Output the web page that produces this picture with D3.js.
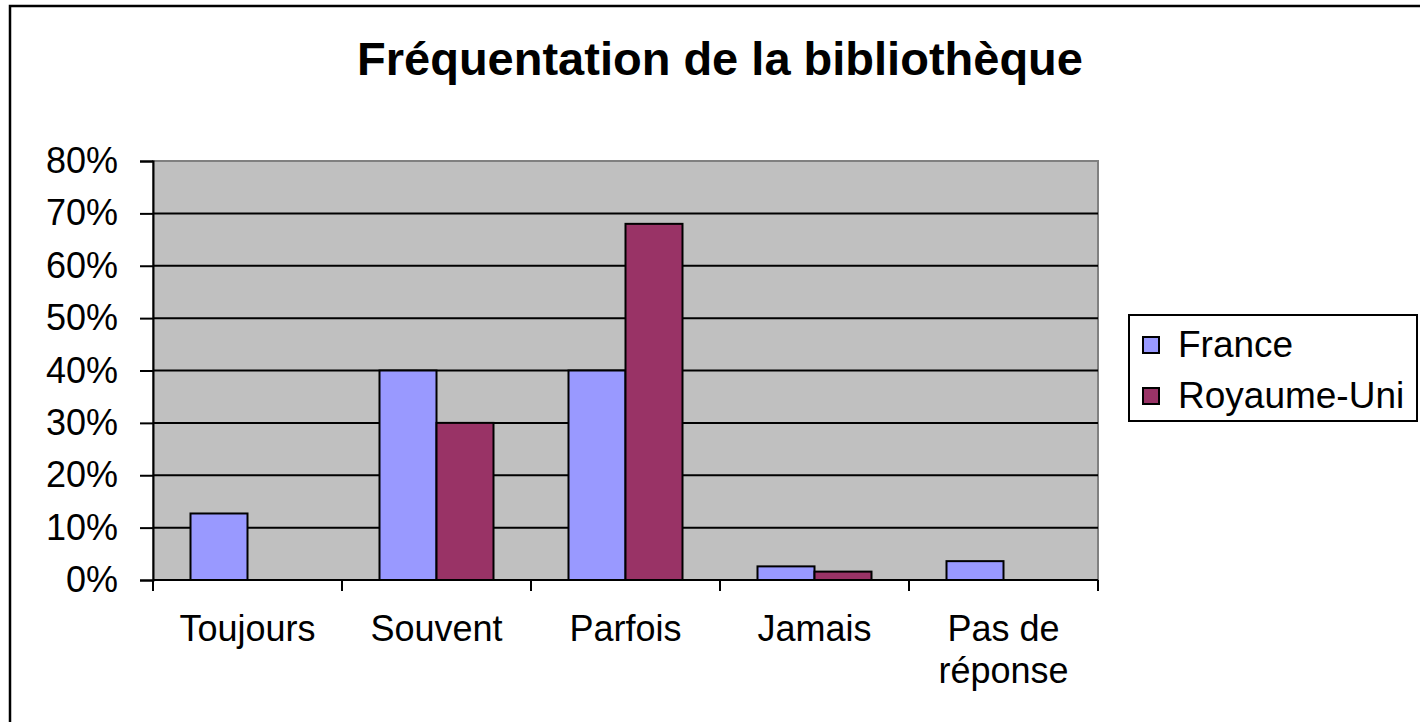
<!DOCTYPE html>
<html>
<head>
<meta charset="utf-8">
<script src="https://cdn.jsdelivr.net/npm/d3@7"></script>
<style>
  body { margin: 0; background: #fff; }
  text { font-family: "Liberation Sans", Arial, sans-serif; fill: #000; }
</style>
</head>
<body>
<div id="chart"></div>
<script>
// Data
const categories = ["Toujours", "Souvent", "Parfois", "Jamais", "Pas de réponse"];
const seriesNames = ["France", "Royaume-Uni"];
const france = [12.7, 40, 40, 2.6, 3.6];
const royaumeUni = [0, 30, 68, 1.6, 0];
const yTicks = [0, 10, 20, 30, 40, 50, 60, 70, 80];
const colors = ["#9999FF", "#993366"];

const width = 1420, height = 722;
const plot = { left: 153, right: 1098, top: 161, bottom: 580 };

const svg = d3.select("#chart").append("svg")
    .attr("width", width)
    .attr("height", height);

// outer chart border (runs off the right and bottom of the picture)
svg.append("rect")
    .attr("x", 10).attr("y", 6)
    .attr("width", 1440).attr("height", 760)
    .attr("fill", "none")
    .attr("stroke", "#000")
    .attr("stroke-width", 2.5);

// title
svg.append("text")
    .attr("x", 720).attr("y", 75)
    .attr("text-anchor", "middle")
    .attr("font-size", 47)
    .attr("font-weight", "bold")
    .text("Fréquentation de la bibliothèque");

const x0 = d3.scaleBand()
    .domain(categories)
    .range([plot.left, plot.right]);

const x1 = d3.scaleBand()
    .domain(seriesNames)
    .range([0, x0.bandwidth()])
    .paddingOuter(0.658);

const y = d3.scaleLinear()
    .domain([0, 80])
    .range([plot.bottom, plot.top]);

// plot area background
svg.append("rect")
    .attr("x", plot.left).attr("y", plot.top)
    .attr("width", plot.right - plot.left)
    .attr("height", plot.bottom - plot.top)
    .attr("fill", "#C0C0C0")
    .attr("stroke", "#808080")
    .attr("stroke-width", 2);

// gridlines
svg.append("g")
    .selectAll("line")
    .data(yTicks.filter(d => d > 0 && d < 80))
    .join("line")
    .attr("x1", plot.left).attr("x2", plot.right)
    .attr("y1", d => y(d)).attr("y2", d => y(d))
    .attr("stroke", "#000")
    .attr("stroke-width", 2);

// bars
const rows = categories.map((c, i) => ({ cat: c, values: [france[i], royaumeUni[i]] }));
svg.append("g")
    .selectAll("g")
    .data(rows)
    .join("g")
    .attr("transform", d => `translate(${x0(d.cat)},0)`)
    .selectAll("rect")
    .data(d => d.values.map((v, j) => ({ name: seriesNames[j], value: v, j })).filter(d => d.value > 0))
    .join("rect")
    .attr("x", d => x1(d.name))
    .attr("width", x1.bandwidth())
    .attr("y", d => y(d.value))
    .attr("height", d => y(0) - y(d.value))
    .attr("fill", d => colors[d.j])
    .attr("stroke", "#000")
    .attr("stroke-width", 2);

// y axis
const yAxis = svg.append("g")
    .attr("transform", `translate(${plot.left},0)`)
    .call(d3.axisLeft(y).tickValues(yTicks).tickFormat(d => d + "%").tickSize(13).tickPadding(22));
yAxis.select(".domain").attr("stroke", "#000").attr("stroke-width", 2);
yAxis.selectAll(".tick line").attr("stroke", "#000").attr("stroke-width", 2);
yAxis.selectAll(".tick text")
    .attr("font-size", 36)
    .attr("font-family", "Liberation Sans, Arial, sans-serif")
    .attr("fill", "#000");

// x axis line and ticks at category boundaries
svg.append("line")
    .attr("x1", plot.left).attr("x2", plot.right)
    .attr("y1", plot.bottom).attr("y2", plot.bottom)
    .attr("stroke", "#000").attr("stroke-width", 2);

const boundaries = categories.map(c => x0(c)).concat([plot.right]);
svg.append("g")
    .selectAll("line")
    .data(boundaries)
    .join("line")
    .attr("x1", d => d).attr("x2", d => d)
    .attr("y1", plot.bottom).attr("y2", plot.bottom + 11)
    .attr("stroke", "#000").attr("stroke-width", 2);

// category labels (wrap "Pas de réponse")
const catLines = { "Pas de réponse": ["Pas de", "réponse"] };
svg.append("g")
    .selectAll("text")
    .data(categories)
    .join("text")
    .attr("x", d => x0(d) + x0.bandwidth() / 2)
    .attr("y", 641)
    .attr("text-anchor", "middle")
    .attr("font-size", 36)
    .each(function(d) {
        const lines = catLines[d] || [d];
        d3.select(this).selectAll("tspan")
            .data(lines)
            .join("tspan")
            .attr("x", x0(d) + x0.bandwidth() / 2)
            .attr("dy", (l, i) => i === 0 ? 0 : 42)
            .text(l => l);
    });

// legend
const legend = svg.append("g");
legend.append("rect")
    .attr("x", 1129).attr("y", 315)
    .attr("width", 288).attr("height", 106)
    .attr("fill", "#fff")
    .attr("stroke", "#000")
    .attr("stroke-width", 2);

const items = legend.selectAll("g.item")
    .data(seriesNames)
    .join("g")
    .attr("class", "item")
    .attr("transform", (d, i) => `translate(1143,${337 + i * 51})`);
items.append("rect")
    .attr("width", 16).attr("height", 16)
    .attr("fill", (d, i) => colors[i])
    .attr("stroke", "#000")
    .attr("stroke-width", 2);
items.append("text")
    .attr("x", 35).attr("y", 20)
    .attr("font-size", 37)
    .text(d => d);
</script>
</body>
</html>
